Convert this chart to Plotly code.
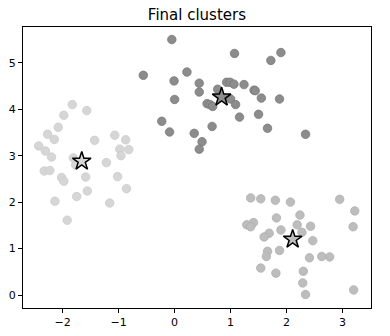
import plotly.graph_objects as go

# Cluster A (light, left)
a_x = [-1.83, -1.57, -1.98, -2.08, -2.27, -2.15, -1.07, -0.875, -1.43, -2.43,
       -2.31, -0.98, -0.82, -2.20, -0.96, -1.81, -1.77, -1.22, -2.33, -2.23,
       -2.02, -1.98, -1.59, -1.02, -1.56, -0.86, -1.75, -2.14, -1.16, -1.92]
a_y = [4.10, 3.97, 3.87, 3.61, 3.46, 3.35, 3.44, 3.34, 3.33, 3.21,
       3.10, 3.14, 3.13, 2.97, 3.00, 2.95, 2.80, 2.85, 2.67, 2.68,
       2.53, 2.45, 2.54, 2.55, 2.24, 2.29, 2.12, 2.02, 1.98, 1.61]

# Cluster B (dark, top centre)
b_x = [-0.05, 1.07, 1.90, 1.72, 0.22, -0.56, -0.01, 0.44, 0.93, 0.99,
       1.06, 1.24, 1.42, 1.44, 0.44, 0.77, 0.00, 1.00, 1.55, 1.875,
       0.58, 0.63, 0.68, 1.09, 1.16, 1.50, -0.23, -0.09, 0.35, 0.67,
       1.66, 2.34, 0.49, 0.44]
b_y = [5.50, 5.20, 5.22, 5.05, 4.80, 4.73, 4.61, 4.56, 4.58, 4.58,
       4.54, 4.53, 4.41, 4.40, 4.37, 4.43, 4.21, 4.22, 4.24, 4.22,
       4.12, 4.10, 4.06, 4.10, 3.83, 3.89, 3.74, 3.51, 3.48, 3.63,
       3.59, 3.46, 3.30, 3.14]

# Cluster C (mid grey, bottom right)
c_x = [1.36, 1.54, 1.80, 2.07, 2.95, 3.22, 2.24, 1.82, 1.41, 1.29,
       1.36, 2.19, 2.43, 3.19, 1.90, 2.275, 1.69, 1.60, 2.47, 1.875,
       1.66, 1.64, 2.41, 2.63, 2.77, 1.54, 1.81, 2.30, 2.29, 2.34, 3.20]
c_y = [2.09, 2.07, 2.04, 2.00, 2.06, 1.81, 1.72, 1.66, 1.56, 1.51,
       1.47, 1.51, 1.48, 1.47, 1.40, 1.35, 1.33, 1.25, 1.17, 0.96,
       0.94, 0.83, 0.80, 0.83, 0.82, 0.58, 0.47, 0.51, 0.26, 0.01, 0.11]

# Cluster centres
cent_x = [-1.66, 0.84, 2.11]
cent_y = [2.88, 4.26, 1.20]

colors = ["#d6d6d6", "#8c8c8c", "#bdbdbd"]
edges = ["#cccccc", "#7a7a7a", "#b0b0b0"]

fig = go.Figure()
for xs, ys, c, e in [(a_x, a_y, colors[0], edges[0]),
                     (b_x, b_y, colors[1], edges[1]),
                     (c_x, c_y, colors[2], edges[2])]:
    fig.add_trace(go.Scatter(x=xs, y=ys, mode="markers",
                             marker=dict(size=8.5, color=c, line=dict(color=e, width=0.8)),
                             showlegend=False, hoverinfo="skip"))

fig.add_trace(go.Scatter(x=cent_x, y=cent_y, mode="markers",
                         marker=dict(symbol="star", size=14, color=colors,
                                     line=dict(color="black", width=1.5)),
                         showlegend=False, hoverinfo="skip"))

axis_common = dict(showgrid=False, zeroline=False, showline=True, linecolor="black",
                   linewidth=1, mirror=True, ticks="outside", ticklen=4, tickwidth=1,
                   automargin=False,
                   tickcolor="black", tickfont=dict(family="DejaVu Sans", size=11, color="black"))

fig.update_layout(
    width=390, height=336,
    margin=dict(l=23, r=19, t=27, b=28, autoexpand=False),
    paper_bgcolor="white", plot_bgcolor="white",
    title=dict(text="Final clusters", x=0.505, xanchor="center", y=0.955, yanchor="middle",
               font=dict(family="DejaVu Sans", size=15, color="black")),
    xaxis=dict(range=[-2.71, 3.51], tickvals=[-2, -1, 0, 1, 2, 3],
               ticktext=["\u22122", "\u22121", "0", "1", "2", "3"], **axis_common),
    yaxis=dict(range=[-0.28, 5.77], tickvals=[0, 1, 2, 3, 4, 5], **axis_common),
)

fig.write_html("out.html")
